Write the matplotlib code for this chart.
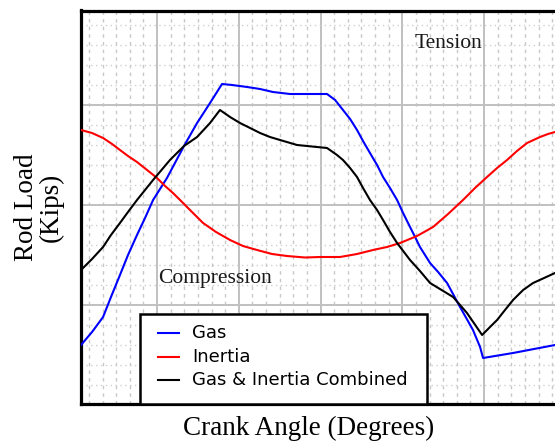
import numpy as np
import matplotlib
matplotlib.use('Agg')
import matplotlib.pyplot as plt
from matplotlib.patches import Rectangle
from matplotlib.lines import Line2D

# crank angle (deg) and rod load (kips)
gas_x = [4.2, 12.3, 20.4, 26.2, 32.8, 38.7, 45.3, 51.2, 57.1, 67.3, 79.8, 89.4, 98.9,
         107.7, 115.1, 126.1, 135.6, 145.1, 157.6, 184.8, 190.7, 196.5, 201.7, 206.8,
         211.2, 216.3, 221.5, 225.9, 231.0, 236.2, 240.6, 245.7, 249.4, 253.0, 260.4,
         266.3, 272.9, 282.4, 291.9, 297.1, 299.3, 321.3, 352.1]
gas_y = [-14.0, -12.7, -11.2, -9.2, -7.0, -5.0, -3.0, -1.3, 0.5, 2.7, 5.9, 8.2, 10.2,
         12.1, 12.0, 11.8, 11.6, 11.3, 11.1, 11.1, 10.5, 9.5, 8.6, 7.5,
         6.4, 5.2, 4.0, 2.8, 1.7, 0.5, -0.8, -2.2, -3.2, -4.2, -5.8,
         -6.7, -7.8, -10.2, -12.5, -14.2, -15.3, -14.8, -14.0]

inertia_x = [4.2, 12.3, 20.4, 27.0, 32.8, 38.7, 45.3, 52.7, 60.0, 65.9, 71.7, 76.9,
             84.2, 93.8, 103.3, 113.6, 123.1, 133.4, 144.4, 155.4, 168.6, 179.6, 194.3,
             206.8, 218.5, 228.8, 238.4, 250.8, 262.6, 273.6, 284.6, 293.4, 302.2, 309.6,
             316.9, 324.2, 331.6, 341.1, 347.0, 352.1]
inertia_y = [7.5, 7.2, 6.7, 6.1, 5.5, 4.9, 4.3, 3.5, 2.7, 1.9, 1.2, 0.5,
             -0.5, -1.8, -2.7, -3.5, -4.1, -4.5, -4.9, -5.1, -5.25, -5.2, -5.2,
             -4.9, -4.5, -4.2, -3.8, -3.1, -2.2, -0.9, 0.5, 1.7, 2.8, 3.7,
             4.5, 5.4, 6.2, 6.8, 7.1, 7.3]

comb_x = [4.2, 12.3, 20.4, 26.2, 32.8, 38.7, 45.3, 51.2, 57.1, 69.5, 79.8, 89.4, 98.9,
          106.2, 113.6, 120.9, 128.3, 135.6, 142.9, 150.3, 162.8, 177.4, 184.8, 192.1,
          196.5, 201.7, 206.8, 211.2, 216.3, 221.5, 225.9, 231.0, 236.2, 245.7, 253.0,
          260.4, 277.3, 287.5, 298.6, 304.4, 309.6, 315.4, 321.3, 328.7, 336.0, 344.1,
          352.1]
comb_y = [-6.5, -5.4, -4.2, -3.0, -1.8, -0.7, 0.5, 1.5, 2.5, 4.5, 5.9, 6.8, 8.2,
          9.5, 8.8, 8.2, 7.7, 7.2, 6.8, 6.5, 6.0, 5.8, 5.7, 5.0,
          4.5, 3.7, 2.8, 1.7, 0.5, -0.5, -1.5, -2.7, -3.8, -5.5, -6.6,
          -7.8, -9.2, -10.8, -13.0, -12.2, -11.5, -10.5, -9.5, -8.5, -7.8, -7.3,
          -6.8]

labels = ['Gas', 'Inertia', 'Gas & Inertia Combined']
colors = ['#0000ff', '#ff0000', '#000000']

fig = plt.figure(figsize=(5.55, 4.41), dpi=100)
ax = fig.add_axes([81/555, 1 - 403.5/441, 1 - 81/555, (403.5 - 10.5)/441])

ax.plot(gas_x, gas_y, color=colors[0], lw=1.5, zorder=3)
ax.plot(inertia_x, inertia_y, color=colors[1], lw=1.5, zorder=3)
ax.plot(comb_x, comb_y, color=colors[2], lw=1.5, zorder=3)

ax.set_xlim(4.2, 352.1)
ax.set_ylim(-19.85, 19.45)

# grid: solid majors, broken minors
ax.set_xticks(np.arange(60, 360, 60))
ax.set_xticks(np.arange(10, 360, 10), minor=True)
ax.set_yticks(np.arange(-10, 20, 10))
ax.set_yticks(np.arange(-18, 20, 2), minor=True)
ax.tick_params(which='both', length=0, labelbottom=False, labelleft=False)
ax.grid(which='major', color='#c0c0c0', lw=1.4, zorder=1)
ax.xaxis.grid(which='minor', color='#c8c8c8', lw=1, linestyle=(0, (2.5, 3)))
ax.yaxis.grid(which='minor', color='#cfcfcf', lw=1, linestyle=(0, (1, 2.5)))
ax.set_axisbelow(True)

for s in ['left', 'top', 'bottom']:
    ax.spines[s].set_linewidth(2.3)
    ax.spines[s].set_color('black')
ax.spines['right'].set_visible(False)

serif = ['Liberation Serif', 'DejaVu Serif']
ax.text(273.6, 16.1, 'Tension', fontsize=15.5, family=serif, color='#1a1a1a',
        ha='center', va='center')
ax.text(102.6, -7.4, 'Compression', fontsize=15.5, family=serif, color='#1a1a1a',
        ha='center', va='center')

# legend box drawn by hand
ax.add_patch(Rectangle((0.1245, 0.0), 0.6055, 0.228, transform=ax.transAxes,
                       facecolor='white', edgecolor='black', lw=1.8, zorder=5))
rows = [0.179, 0.118, 0.060]
for lab, col, yy in zip(labels, colors, rows):
    ax.add_line(Line2D([0.162, 0.207], [yy, yy], transform=ax.transAxes,
                       color=col, lw=1.5, zorder=6))
    ax.text(0.234, yy, lab, transform=ax.transAxes, fontsize=13,
            family='DejaVu Sans', ha='left', va='center', zorder=6)

fig.text(309/555, 1 - 428/441, 'Crank Angle (Degrees)', fontsize=19.5,
         family=serif, ha='center', va='center')
fig.text(39/555, 1 - 207/441, 'Rod Load\n(Kips)', fontsize=19.5, family=serif,
         rotation=90, ha='center', va='center', multialignment='center',
         linespacing=1.0)

fig.savefig('out.png', dpi=100)
